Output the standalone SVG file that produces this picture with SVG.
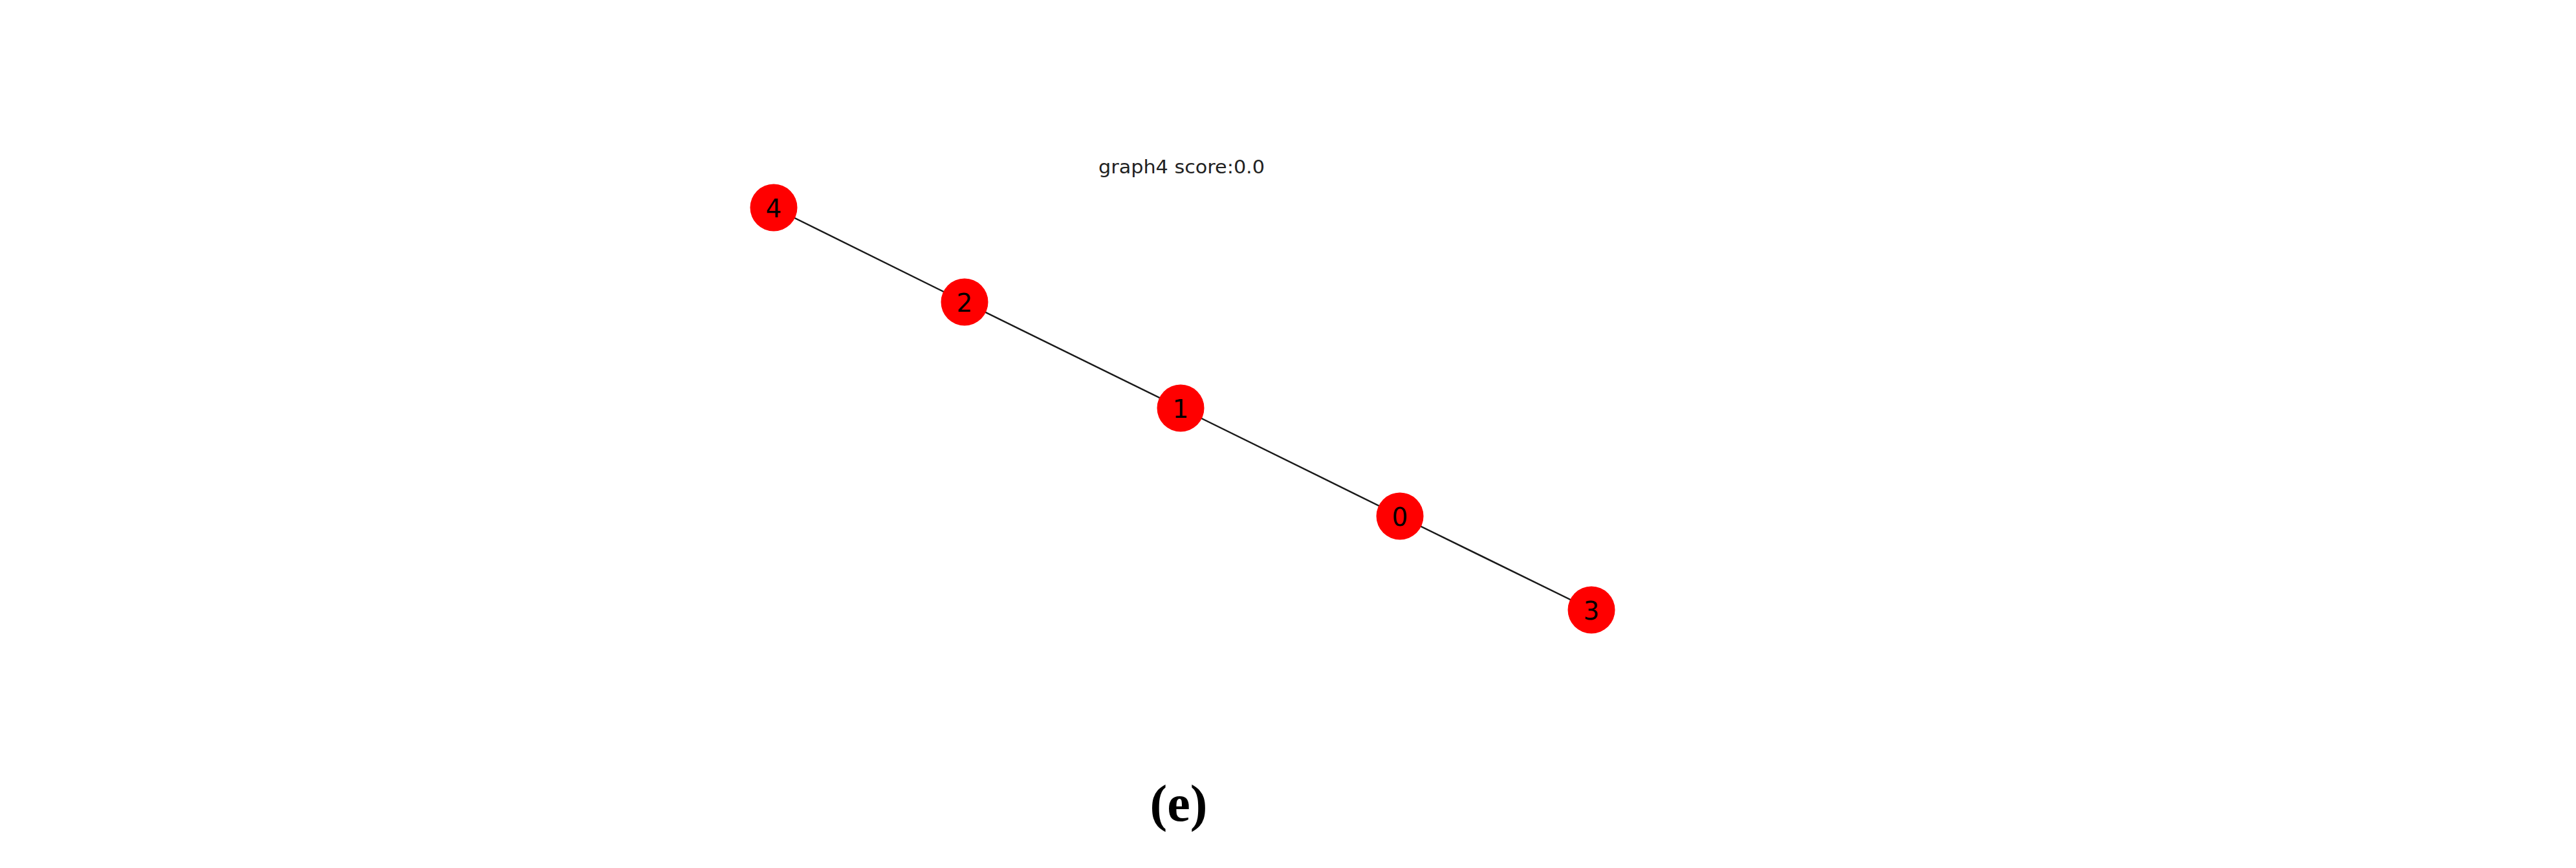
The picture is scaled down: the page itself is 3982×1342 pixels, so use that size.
<svg xmlns="http://www.w3.org/2000/svg" width="3982" height="1342" viewBox="0 0 3982 1342">
<style>
.edge{stroke:#1a1a1a;stroke-width:2.5;fill:none}
.node circle{fill:#ff0000}
.node text{font-family:"DejaVu Sans",sans-serif;font-size:39px;fill:#000;text-anchor:middle;dominant-baseline:central}
.title{font-family:"DejaVu Sans",sans-serif;font-size:28px;fill:#222}
.cap{font-family:"Liberation Serif",serif;font-weight:bold;font-size:80px;fill:#000;text-anchor:middle}
</style>
<rect width="3982" height="1342" fill="#fff"/>
<text class="title" x="1698" y="268" textLength="257" lengthAdjust="spacingAndGlyphs">graph4 score:0.0</text>
<g id="edges">
<line class="edge" x1="1196" y1="321" x2="1491" y2="467"/>
<line class="edge" x1="1491" y1="467" x2="1825" y2="631"/>
<line class="edge" x1="1825" y1="631" x2="2164" y2="798"/>
<line class="edge" x1="2164" y1="798" x2="2460" y2="943"/>
</g>
<g id="node4" class="node"><circle cx="1196" cy="321" r="36.5"/><text x="1196" y="322">4</text></g>
<g id="node2" class="node"><circle cx="1491" cy="467" r="36.5"/><text x="1491" y="468">2</text></g>
<g id="node1" class="node"><circle cx="1825" cy="631" r="36.5"/><text x="1825" y="632">1</text></g>
<g id="node0" class="node"><circle cx="2164" cy="798" r="36.5"/><text x="2164" y="799">0</text></g>
<g id="node3" class="node"><circle cx="2460" cy="943" r="36.5"/><text x="2460" y="944">3</text></g>
<text class="cap" x="1822" y="1269">(e)</text>
</svg>
